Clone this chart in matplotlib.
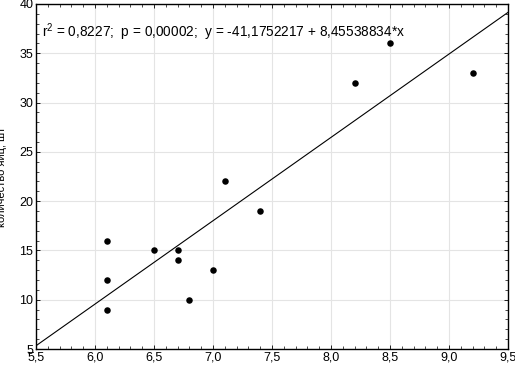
import matplotlib
matplotlib.use("Agg")
import matplotlib.pyplot as plt
import numpy as np
from matplotlib.ticker import MultipleLocator, FuncFormatter

plt.rcParams['font.family'] = ['Liberation Sans', 'DejaVu Sans']
plt.rcParams['mathtext.fontset'] = 'custom'
plt.rcParams['mathtext.rm'] = 'Liberation Sans'

x_vals = [6.1, 6.1, 6.1, 6.5, 6.7, 6.7, 6.8, 7.0, 7.1, 7.4, 8.2, 8.5, 9.2]
y_vals = [16, 12, 9, 15, 15, 14, 10, 13, 22, 19, 32, 36, 33]
intercept = -41.1752217
slope = 8.45538834
annotation = "r$^\\mathrm{2}$ = 0,8227;  p = 0,00002;  y = -41,1752217 + 8,45538834*x"
y_label = "количество яиц, шт"

fig = plt.figure(figsize=(5.15, 3.68), dpi=100)
ax = fig.add_axes([36/515, 1-349/368, (508-36)/515, (349-4)/368])

ax.set_xlim(5.5, 9.5)
ax.set_ylim(5, 40)

xl = np.array([5.5, 9.5])
ax.plot(xl, intercept + slope * xl, color='black', lw=0.8, zorder=3)
ax.scatter(x_vals, y_vals, s=22, color='black', zorder=4, linewidths=0)

ax.xaxis.set_major_locator(MultipleLocator(0.5))
ax.xaxis.set_minor_locator(MultipleLocator(0.1))
ax.yaxis.set_major_locator(MultipleLocator(5))
ax.yaxis.set_minor_locator(MultipleLocator(1))
ax.xaxis.set_major_formatter(FuncFormatter(lambda v, p: f"{v:.1f}".replace('.', ',')))
ax.yaxis.set_major_formatter(FuncFormatter(lambda v, p: f"{v:.0f}"))

ax.grid(True, which='major', color='#e4e4e4', lw=0.8)
ax.set_axisbelow(True)
ax.tick_params(which='both', direction='in', top=True, right=True, labelsize=9, pad=2)
ax.tick_params(which='major', length=3, width=0.6)
ax.tick_params(which='minor', length=2, width=0.5)
for s in ax.spines.values():
    s.set_linewidth(1.0)
    s.set_color('black')

ax.text(0.013, 0.905, annotation, transform=ax.transAxes, fontsize=9.8, va='baseline')
ax.set_ylabel(y_label, fontsize=8)
ax.yaxis.set_label_coords(-0.062, 0.5)

fig.savefig("out.png", dpi=100)
